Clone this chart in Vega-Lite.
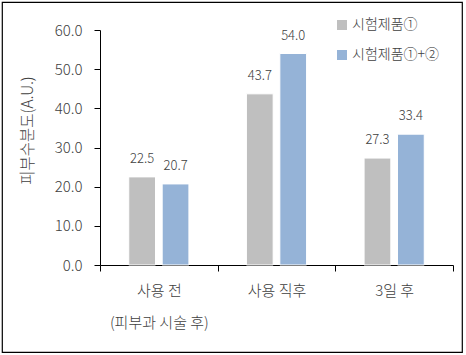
{
  "$schema": "https://vega.github.io/schema/vega-lite/v6.json",
  "width": 460,
  "height": 350,
  "autosize": "none",
  "padding": {"left": 2, "top": 2, "right": 4, "bottom": 3},
  "background": "white",
  "config": {
    "font": "Noto Sans CJK KR",
    "view": {"stroke": "#000000", "strokeWidth": 1.2}
  },
  "data": {
    "values": [
      {"group": "사용 전\n(피부과 시술 후)", "series": "시험제품①", "value": 22.5},
      {"group": "사용 전\n(피부과 시술 후)", "series": "시험제품①+②", "value": 20.7},
      {"group": "사용 직후", "series": "시험제품①", "value": 43.7},
      {"group": "사용 직후", "series": "시험제품①+②", "value": 54.0},
      {"group": "3일 후", "series": "시험제품①", "value": 27.3},
      {"group": "3일 후", "series": "시험제품①+②", "value": 33.4}
    ]
  },
  "encoding": {
    "x": {
      "field": "group",
      "type": "nominal",
      "sort": null,
      "scale": {"range": [98, 451], "paddingInner": 0, "paddingOuter": 0},
      "axis": {
        "title": null,
        "orient": "bottom",
        "offset": -87,
        "labelAngle": 0,
        "labelExpr": "split(datum.label, '\\n')",
        "labelLineHeight": 32,
        "labelBaseline": "top",
        "labelFontSize": 15,
        "labelFontWeight": 300,
        "labelColor": "#404040",
        "labelPadding": 12,
        "tickBand": "extent",
        "tickSize": 6,
        "tickColor": "#000000",
        "domainColor": "#000000",
        "tickWidth": 1,
        "domainWidth": 1
      }
    },
    "xOffset": {
      "field": "series",
      "type": "nominal",
      "sort": ["시험제품①", "시험제품①+②"],
      "scale": {"paddingInner": 0.2, "paddingOuter": 0.86}
    },
    "y": {
      "field": "value",
      "type": "quantitative",
      "scale": {"domain": [0, 60], "range": [263, 28], "nice": false, "zero": true},
      "axis": {
        "orient": "left",
        "offset": -98,
        "title": "피부수분도(A.U.)",
        "titleFontSize": 15.5,
        "titleFontWeight": 300,
        "titleColor": "#404040",
        "titlePadding": 19,
        "titleY": 128,
        "values": [0, 10, 20, 30, 40, 50, 60],
        "format": ".1f",
        "grid": false,
        "labelFontSize": 15,
        "labelFontWeight": 300,
        "labelColor": "#404040",
        "labelPadding": 12,
        "tickSize": 6,
        "tickColor": "#000000",
        "domainColor": "#000000"
      }
    }
  },
  "layer": [
    {
      "mark": {"type": "bar", "stroke": "white", "strokeWidth": 1},
      "encoding": {
        "color": {
          "field": "series",
          "type": "nominal",
          "sort": ["시험제품①", "시험제품①+②"],
          "scale": {"range": ["#BFBFBF", "#95B3D7"]},
          "legend": {
            "title": null,
            "orient": "none",
            "legendX": 333,
            "legendY": 16,
            "symbolType": "square",
            "symbolSize": 100,
            "symbolStrokeWidth": 0,
            "labelFontSize": 14,
            "labelFontWeight": 300,
            "labelColor": "#404040",
            "labelOffset": 3,
            "rowPadding": 16
          }
        }
      }
    },
    {
      "mark": {"type": "text", "baseline": "alphabetic", "dy": -14, "fontSize": 13, "fontWeight": 300, "color": "#404040"},
      "encoding": {
        "text": {"field": "value", "type": "quantitative", "format": ".1f"}
      }
    }
  ]
}
